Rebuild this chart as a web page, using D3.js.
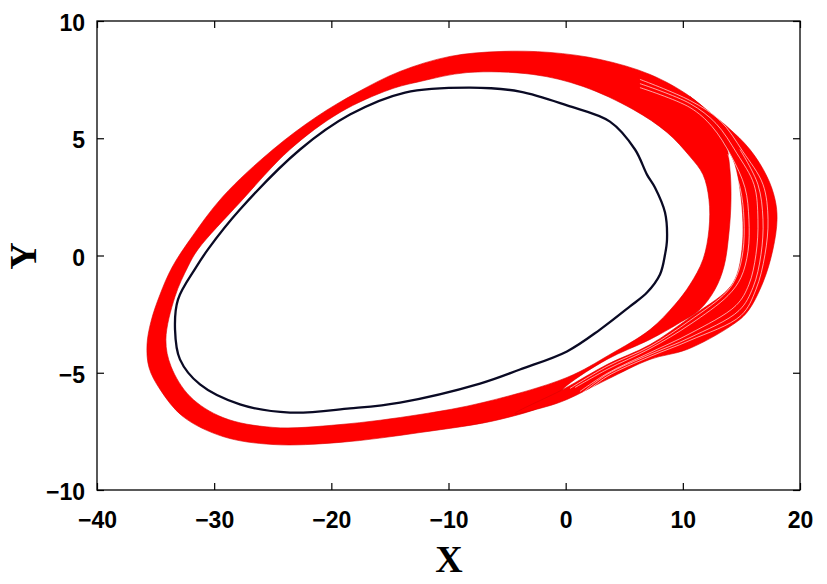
<!DOCTYPE html>
<html><head><meta charset="utf-8">
<script src="https://cdn.jsdelivr.net/npm/d3@7"></script>
<style>html,body{margin:0;padding:0;background:#fff;} svg{display:block;}</style>
</head><body>
<svg id="chart" width="827" height="584"></svg>
<script>
// ---- tick values ----
const xTicks = [-40, -30, -20, -10, 0, 10, 20];
const yTicks = [-10, -5, 0, 5, 10];

// ---- black closed orbit (x, y) ----
const blackCycle = [
  [-33.34,-3.16],[-33.09,-1.88],[-31.55,-0.51],[-30.53,0.26],[-27.80,1.96],[-22.67,4.52],
  [-18.41,6.01],[-13.71,6.95],[-8.17,7.16],[-3.90,6.99],[0.11,6.40],[3.78,5.71],[5.92,4.52],
  [6.94,3.45],[7.62,2.90],[8.48,1.83],[8.65,0.68],[8.48,0.04],[8.05,-0.81],[6.94,-1.58],
  [5.49,-2.17],[2.93,-3.16],[0.11,-4.09],[-3.90,-4.86],[-7.31,-5.46],[-14.14,-6.27],
  [-18.41,-6.52],[-23.53,-6.70],[-27.80,-6.35],[-31.21,-5.50],[-32.92,-4.43]
];

// ---- red trajectory band: outer edge (x, y) ----
const bandOuter = [
  [-32.06,0.68],[-29.25,2.52],[-24.98,4.52],[-21.22,5.93],[-17.81,6.95],[-14.14,7.85],
  [-9.87,8.49],[-5.61,8.70],[-1.34,8.66],[2.93,8.36],[7.20,7.72],[10.61,6.78],[12.49,5.93],
  [13.60,4.95],[14.02,3.67],[14.11,2.39],[13.94,0.98],[13.51,-0.47],[12.74,-1.45],
  [11.46,-2.30],[9.76,-2.86],[7.20,-3.58],[3.53,-4.43],[0.11,-5.54],[-1.51,-6.31],
  [-5.61,-6.99],[-12.43,-7.55],[-19.26,-7.97],[-24.98,-8.06],[-29.25,-7.72],[-32.66,-6.87],
  [-34.62,-5.71],[-35.56,-4.78],[-35.73,-3.80],[-35.39,-2.81],[-34.62,-1.66],[-33.60,-0.51]
];
// ---- red trajectory band: inner edge (x, y) ----
const bandInner = [
  [-31.38,0.26],[-27.80,2.26],[-23.53,4.52],[-19.26,6.10],[-14.99,7.08],[-12.43,7.42],
  [-8.42,7.80],[-2.79,7.72],[1.48,7.21],[5.75,6.23],[8.65,5.25],[10.61,4.22],[11.72,3.45],
  [12.23,2.39],[12.23,1.11],[11.72,-0.17],[10.61,-1.24],[9.33,-2.09],[7.20,-3.16],
  [3.78,-4.22],[0.11,-5.20],[-7.06,-6.27],[-12.43,-6.78],[-19.26,-7.21],[-24.98,-7.33],
  [-29.25,-6.91],[-32.06,-6.01],[-33.68,-4.73],[-34.12,-3.58],[-33.34,-1.75],[-32.23,-0.47]
];

// ---- outer branch of the trajectories on the right side ----
const branchOuter = [
  [10.61,6.78],[13.77,5.50],[15.73,4.52],[17.18,3.37],[17.87,2.39],[18.04,1.54],[17.69,0.26],
  [16.84,-1.15],[15.47,-2.43],[14.02,-3.03],[10.35,-4.01],[7.20,-4.43],[3.53,-5.29],
  [0.11,-6.14],[-1.76,-6.46],[-4.33,-6.74]
];
const branchInner = [
  [-0.23,-5.71],[3.53,-4.65],[7.20,-3.80],[10.61,-2.64],[13.85,-1.45],[14.62,-0.81],
  [15.05,0.26],[15.13,1.41],[14.88,2.81],[14.45,3.88],[13.85,4.52],[12.74,5.59],[10.61,6.44]
];

// ---- thin gaps between strands of the outer branch ----
const strandGaps = [
  [[13.85,4.31],[14.88,2.90],[15.22,1.54],[15.13,0.17],[14.62,-0.85],[13.77,-1.54],
   [10.61,-2.77],[7.20,-3.88],[3.53,-4.73],[0.37,-5.67]],
  [[6.34,7.16],[10.61,6.31],[12.49,5.50],[14.11,4.26],[15.30,2.90],[15.64,1.54],[15.56,0.17],
   [14.96,-0.94],[13.85,-1.71],[10.61,-2.94],[7.20,-3.97],[3.53,-4.86],[0.80,-5.63]],
  [[6.34,7.33],[10.61,6.48],[12.83,5.63],[14.62,4.35],[16.07,3.03],[16.41,1.54],[16.24,0.04],
   [15.64,-1.24],[14.54,-2.13],[10.61,-3.33],[7.20,-4.14],[3.53,-5.03],[1.22,-5.80]],
  [[14.88,4.52],[16.41,3.03],[16.84,1.54],[16.67,0.04],[15.99,-1.36],[14.79,-2.35],
   [10.61,-3.50],[7.20,-4.22],[3.53,-5.07],[1.48,-5.84]],
  [[6.34,7.51],[10.61,6.61],[13.17,5.76],[15.13,4.43],[16.84,3.03],[17.27,1.54],[17.01,0.04],
   [16.24,-1.45],[14.96,-2.56],[10.61,-3.62],[7.20,-4.31],[3.53,-5.16],[1.65,-5.88]]
];

const svg = d3.select("#chart");
const x = d3.scaleLinear().domain([-40, 20]).range([97, 800]);
const y = d3.scaleLinear().domain([-10, 10]).range([490, 21]);

const closedLine = d3.line().x(d => x(d[0])).y(d => y(d[1])).curve(d3.curveCatmullRomClosed.alpha(0.5));
const openLine = d3.line().x(d => x(d[0])).y(d => y(d[1])).curve(d3.curveCatmullRom.alpha(0.5));

// red band (ring)
svg.append("path")
  .attr("d", closedLine(bandOuter) + closedLine(bandInner))
  .attr("fill", "#ff0000").attr("fill-rule", "evenodd")
  .attr("stroke", "#d80000").attr("stroke-width", 0.6);

// outer branch
svg.append("path")
  .attr("d", openLine(branchOuter.concat(branchInner)) + "Z")
  .attr("fill", "#ff0000")
  .attr("stroke", "#d80000").attr("stroke-width", 0.6);

// gaps between strands
svg.selectAll("path.gap").data(strandGaps).join("path")
  .attr("class", "gap")
  .attr("d", d => openLine(d))
  .attr("fill", "none").attr("stroke", "#ffffff").attr("stroke-width", 0.9).attr("opacity", 0.7);

// black orbit
svg.append("path")
  .attr("d", closedLine(blackCycle))
  .attr("fill", "none").attr("stroke", "#0a0a24").attr("stroke-width", 2.3);

// axes
const tickFont = "'Liberation Sans', Arial, sans-serif";
const gx = svg.append("g").attr("transform", "translate(0,490)")
  .call(d3.axisBottom(x).tickValues(xTicks).tickSize(-7).tickSizeOuter(0).tickFormat(d3.format("d")));
const gxTop = svg.append("g").attr("transform", "translate(0,21)")
  .call(d3.axisTop(x).tickValues(xTicks).tickSize(-7).tickSizeOuter(0).tickFormat(""));
const gy = svg.append("g").attr("transform", "translate(97,0)")
  .call(d3.axisLeft(y).tickValues(yTicks).tickSize(-7).tickSizeOuter(0).tickPadding(12).tickFormat(d3.format("d")));
const gyRight = svg.append("g").attr("transform", "translate(800,0)")
  .call(d3.axisRight(y).tickValues(yTicks).tickSize(-7).tickSizeOuter(0).tickFormat(""));

[gx, gxTop, gy, gyRight].forEach(g => {
  g.select(".domain").remove();
  g.selectAll(".tick line").attr("stroke", "#000").attr("stroke-width", 1.2);
});
gx.selectAll(".tick text")
  .attr("y", 38).attr("dy", 0)
  .attr("font-family", tickFont).attr("font-weight", "bold").attr("font-size", 23)
  .attr("fill", "#000");
gy.selectAll(".tick text")
  .attr("dy", "0.42em")
  .attr("font-family", tickFont).attr("font-weight", "bold").attr("font-size", 23)
  .attr("fill", "#000");

// box
svg.append("rect").attr("x", 97).attr("y", 21).attr("width", 703).attr("height", 469)
  .attr("fill", "none").attr("stroke", "#000").attr("stroke-width", 1.3);

// axis titles
svg.append("text").attr("x", 449).attr("y", 572).attr("text-anchor", "middle")
  .attr("font-family", "'Liberation Serif', 'Times New Roman', serif").attr("font-weight", "bold")
  .attr("font-size", 38).text("X");
svg.append("text").attr("transform", "translate(36,256) rotate(-90)").attr("text-anchor", "middle")
  .attr("font-family", "'Liberation Serif', 'Times New Roman', serif").attr("font-weight", "bold")
  .attr("font-size", 38).text("Y");
</script>
</body></html>
